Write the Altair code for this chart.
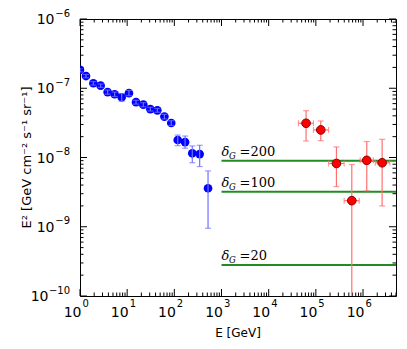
import altair as alt
import pandas as pd

# ---- data ----
blue_x = [1.0, 1.34, 1.92, 2.74, 3.85, 5.43, 7.65, 10.9, 15.4, 22, 31, 43.6, 61.6, 86, 118, 169, 240, 344, 518]
blue_y = [1.84e-7, 1.50e-7, 1.18e-7, 1.09e-7, 8.8e-8, 8.2e-8, 7.4e-8, 8.5e-8, 6.3e-8, 5.8e-8, 5.0e-8, 4.8e-8,
          3.9e-8, 3.15e-8, 1.79e-8, 1.67e-8, 1.15e-8, 1.12e-8, 3.6e-9]
blue_lo = [1.72e-7, 1.42e-7, 1.11e-7, 1.03e-7, 8.2e-8, 7.6e-8, 6.5e-8, 7.8e-8, 5.9e-8, 5.4e-8, 4.7e-8, 4.5e-8,
           3.6e-8, 2.9e-8, 1.48e-8, 1.36e-8, 8.4e-9, 7.4e-9, 9.5e-10]
blue_hi = [1.97e-7, 1.58e-7, 1.25e-7, 1.15e-7, 9.4e-8, 8.8e-8, 8.4e-8, 9.3e-8, 6.7e-8, 6.2e-8, 5.3e-8, 5.1e-8,
           4.2e-8, 3.4e-8, 2.11e-8, 2.04e-8, 1.47e-8, 1.50e-8, 6.4e-9]

red_x = [6.2e4, 1.27e5, 2.73e5, 5.78e5, 1.2e6, 2.54e6]
red_xlo = [4.27e4, 8.9e4, 1.86e5, 3.98e5, 8.7e5, 1.82e6]
red_xhi = [8.9e4, 1.86e5, 3.98e5, 8.3e5, 1.66e6, 3.7e6]
red_y = [3.12e-8, 2.5e-8, 8.2e-9, 2.38e-9, 9.1e-9, 8.4e-9]
red_ylo = [1.73e-8, 1.75e-8, 3.8e-9, 1e-11, 3.3e-9, 2.0e-9]
red_yhi = [4.74e-8, 3.37e-8, 1.42e-8, 7.9e-9, 1.7e-8, 1.83e-8]

delta_labels = ["=200", "=100", "=20"]
delta_values = [9.0e-9, 3.2e-9, 2.8e-10]
line_start = 1e3
line_end = 5e6

x_major = [1, 10, 100, 1e3, 1e4, 1e5, 1e6]
x_exp = ["0", "1", "2", "3", "4", "5", "6"]
y_major = [1e-10, 1e-9, 1e-8, 1e-7, 1e-6]
y_exp = ["\u221210", "\u22129", "\u22128", "\u22127", "\u22126"]
x_minor = [k * 10 ** d for d in range(0, 7) for k in range(2, 10) if k * 10 ** d <= 5e6]
y_minor = [k * 10.0 ** d for d in range(-10, -6) for k in range(2, 10)]

x_title = ["E [GeV]"]
y_title = ["E² [GeV cm⁻² s⁻¹ sr⁻¹]"]

W, H = 316, 277
MAJ, MIN = 7, 3.5

xs = alt.Scale(type="log", domain=[1, 5e6], nice=False)
ys = alt.Scale(type="log", domain=[1e-10, 1e-6], nice=False)

blue = pd.DataFrame({"x": blue_x, "y": blue_y, "lo": blue_lo, "hi": blue_hi})
red = pd.DataFrame({"x": red_x, "xlo": red_xlo, "xhi": red_xhi, "y": red_y, "lo": red_ylo, "hi": red_yhi})
lines = pd.DataFrame({"lab": delta_labels, "v": delta_values,
                      "x0": [line_start] * 3, "x1": [line_end] * 3})
xl = pd.DataFrame({"v": x_major, "e": x_exp})
yl = pd.DataFrame({"v": y_major, "e": y_exp})

BLUE = "#0000ff"
BLUE_ERR = "#7070ff"
RED = "#ff0000"
RED_ERR = "#ff7070"
GREEN = "#228b22"
FONT = "DejaVu Sans"

blue_pts = alt.Chart(blue).mark_point(filled=True, size=75, color=BLUE, opacity=1, clip=True).encode(
    x=alt.X("x:Q", scale=xs, axis=None), y=alt.Y("y:Q", scale=ys, axis=None)
)
blue_err = alt.Chart(blue).mark_errorbar(ticks={"size": 6}, color=BLUE_ERR, thickness=1.2, clip=True).encode(
    x=alt.X("x:Q", scale=xs, axis=None),
    y=alt.Y("lo:Q", scale=ys, axis=None),
    y2="hi:Q",
)
red_yerr = alt.Chart(red).mark_errorbar(ticks={"size": 6}, color=RED_ERR, thickness=1.2, clip=True).encode(
    x=alt.X("x:Q", scale=xs, axis=None),
    y=alt.Y("lo:Q", scale=ys, axis=None),
    y2="hi:Q",
)
red_xerr = alt.Chart(red).mark_errorbar(ticks={"size": 6}, color=RED_ERR, thickness=1.2, clip=True).encode(
    y=alt.Y("y:Q", scale=ys, axis=None),
    x=alt.X("xlo:Q", scale=xs, axis=None),
    x2="xhi:Q",
)
red_pts = alt.Chart(red).mark_point(filled=False, size=75, fill=RED, fillOpacity=1, stroke="#8b0000",
                                    strokeWidth=1, opacity=1, clip=True).encode(
    x=alt.X("x:Q", scale=xs, axis=None), y=alt.Y("y:Q", scale=ys, axis=None)
)

glines = alt.Chart(lines).mark_rule(color=GREEN, strokeWidth=2, clip=True).encode(
    x=alt.X("x0:Q", scale=xs, axis=None), x2="x1:Q", y=alt.Y("v:Q", scale=ys, axis=None)
)
base_t = alt.Chart(lines).encode(x=alt.X("x0:Q", scale=xs, axis=None), y=alt.Y("v:Q", scale=ys, axis=None))
t_delta = base_t.mark_text(text="δ", font="DejaVu Serif", fontStyle="italic", fontSize=13,
                           align="left", baseline="alphabetic", dx=0, dy=-5, color="black")
t_g = base_t.mark_text(text="G", font="DejaVu Serif", fontStyle="italic", fontSize=8.5,
                       align="left", baseline="alphabetic", dx=7.5, dy=-2, color="black")
t_val = base_t.mark_text(font="DejaVu Serif", fontSize=13, align="left", baseline="alphabetic",
                         dx=18, dy=-5, color="black").encode(text="lab:N")

# tick labels drawn as "10" plus a raised exponent, like the reference
xl_base = alt.Chart(xl).encode(x=alt.X("v:Q", scale=xs, axis=None), y=alt.value(H))
x_ten = xl_base.mark_text(text="10", font=FONT, fontSize=14, align="right", baseline="alphabetic",
                          dx=1.5, dy=20.5, color="black")
x_pow = xl_base.mark_text(font=FONT, fontSize=10, align="left", baseline="alphabetic",
                          dx=2.5, dy=11, color="black").encode(text="e:N")

yl_base = alt.Chart(yl).encode(y=alt.Y("v:Q", scale=ys, axis=None), x=alt.value(0))
y_pow = yl_base.mark_text(font=FONT, fontSize=10, align="right", baseline="alphabetic",
                          dx=-10, dy=-2.5, color="black").encode(text="e:N")
y_ten_short = yl_base.transform_filter("length(datum.e) <= 2").mark_text(
    text="10", font=FONT, fontSize=14, align="right", baseline="alphabetic", dx=-25.5, dy=5, color="black")
y_ten_long = yl_base.transform_filter("length(datum.e) > 2").mark_text(
    text="10", font=FONT, fontSize=14, align="right", baseline="alphabetic", dx=-31.5, dy=5, color="black")

# axis titles
xt = alt.Chart(pd.DataFrame({"t": x_title})).mark_text(
    font=FONT, fontSize=12, align="center", baseline="alphabetic", color="black"
).encode(text="t:N", x=alt.value(W / 2), y=alt.value(H + 41))
yt = alt.Chart(pd.DataFrame({"t": y_title})).mark_text(
    font=FONT, fontSize=13, align="center", baseline="alphabetic", angle=270, color="black"
).encode(text="t:N", x=alt.value(-49), y=alt.value(H / 2))


def xticks(vals, length):
    df = pd.DataFrame({"v": vals})
    b = alt.Chart(df).mark_rule(color="black", strokeWidth=1).encode(
        x=alt.X("v:Q", scale=xs, axis=None), y=alt.value(H), y2=alt.value(H - length))
    t = alt.Chart(df).mark_rule(color="black", strokeWidth=1).encode(
        x=alt.X("v:Q", scale=xs, axis=None), y=alt.value(0), y2=alt.value(length))
    return [b, t]


def yticks(vals, length):
    df = pd.DataFrame({"v": vals})
    l = alt.Chart(df).mark_rule(color="black", strokeWidth=1).encode(
        y=alt.Y("v:Q", scale=ys, axis=None), x=alt.value(0), x2=alt.value(length))
    r = alt.Chart(df).mark_rule(color="black", strokeWidth=1).encode(
        y=alt.Y("v:Q", scale=ys, axis=None), x=alt.value(W), x2=alt.value(W - length))
    return [l, r]


ticks = xticks(x_major, MAJ) + xticks(x_minor, MIN) + yticks(y_major, MAJ) + yticks(y_minor, MIN)

chart = alt.layer(
    blue_pts, blue_err, *ticks, glines, t_delta, t_g, t_val,
    x_ten, x_pow, y_pow, y_ten_short, y_ten_long, xt, yt,
    red_yerr, red_xerr, red_pts
).properties(
    width=W, height=H,
    autosize=alt.AutoSizeParams(type="none"),
    padding={"left": 72, "top": 11, "right": 3, "bottom": 50},
).configure_view(
    stroke="black", strokeWidth=1
)

chart.save("out.html", embed_options={"renderer": "svg", "actions": False})
